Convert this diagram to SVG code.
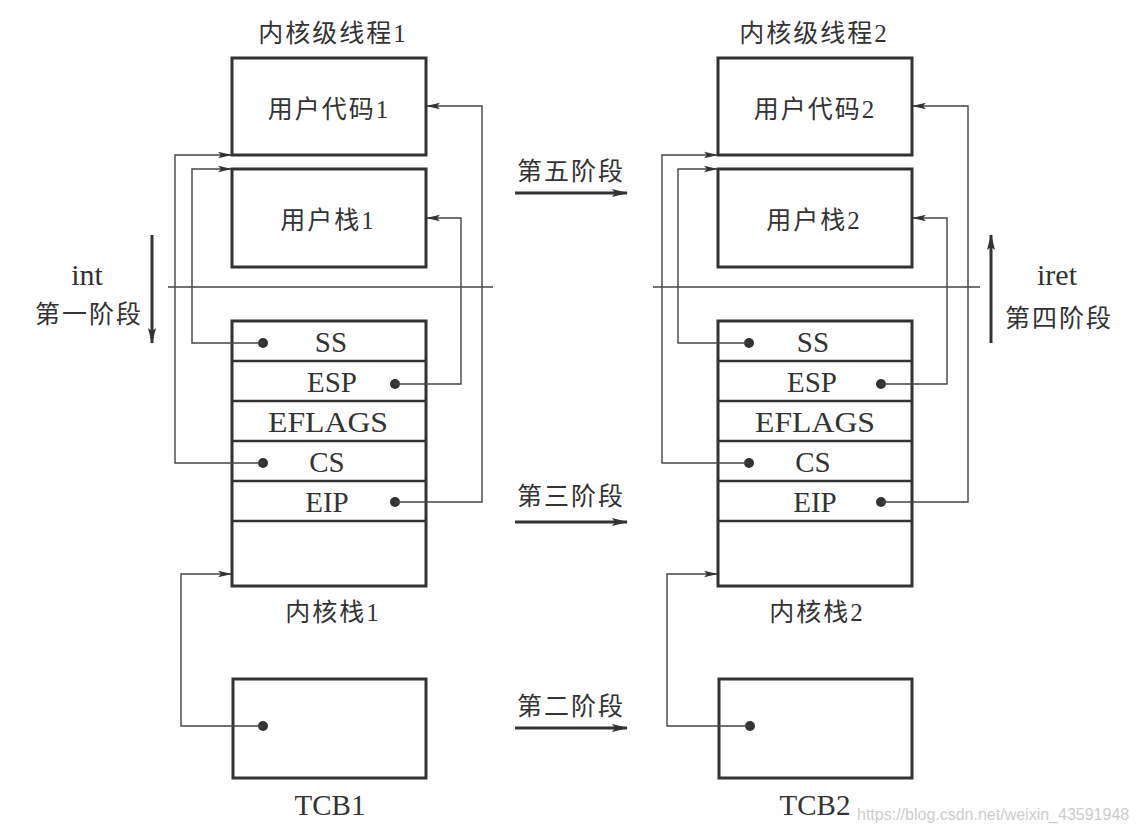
<svg xmlns="http://www.w3.org/2000/svg" width="1137" height="834" viewBox="0 0 1137 834">
<style>
.box{fill:none;stroke:#333;stroke-width:3}
.row{stroke:#333;stroke-width:2.5}
.con{fill:none;stroke:#444;stroke-width:1.4}
.thick{fill:none;stroke:#333;stroke-width:3}
.cn{font-family:"Liberation Serif","Noto Sans CJK SC",serif;font-size:25px;letter-spacing:2px;fill:#333;text-anchor:middle}
.reg{font-family:"Liberation Serif",serif;font-size:29px;fill:#333;text-anchor:middle}
.lat{font-family:"Liberation Serif",serif;font-size:30px;fill:#333;text-anchor:middle}
.dot{fill:#333}
.wm{font-family:"Liberation Sans",sans-serif;font-size:16px;fill:#ccc}
</style>
<defs>
<marker id="ah" markerUnits="userSpaceOnUse" markerWidth="14" markerHeight="8" refX="13" refY="4" orient="auto">
<path d="M0,0.8 L14,4 L0,7.2 L3,4 Z" fill="#333"/>
</marker>
<marker id="ahb" markerUnits="userSpaceOnUse" markerWidth="16" markerHeight="10" refX="15" refY="5" orient="auto">
<path d="M0,1 L16,5 L0,9 L3,5 Z" fill="#333"/>
</marker>
</defs>
<rect width="1137" height="834" fill="#fff"/>

<g id="thread1">
<text class="cn" x="333" y="42">内核级线程1</text>
<g id="usercode1"><rect class="box" x="232" y="58" width="194" height="97"/><text class="cn" x="329" y="118">用户代码1</text></g>
<g id="userstack1"><rect class="box" x="232" y="169" width="194" height="98"/><text class="cn" x="328" y="229">用户栈1</text></g>
<g id="kstack1">
<rect class="box" x="232" y="321" width="194" height="265"/>
<line class="row" x1="232" y1="361" x2="426" y2="361"/>
<line class="row" x1="232" y1="401" x2="426" y2="401"/>
<line class="row" x1="232" y1="441" x2="426" y2="441"/>
<line class="row" x1="232" y1="481" x2="426" y2="481"/>
<line class="row" x1="232" y1="521" x2="426" y2="521"/>
<text class="reg" x="331" y="352">SS</text>
<text class="reg" x="332" y="392">ESP</text>
<text class="reg" x="328" y="432" textLength="120" lengthAdjust="spacingAndGlyphs">EFLAGS</text>
<text class="reg" x="327" y="472">CS</text>
<text class="reg" x="327" y="512">EIP</text>
<circle class="dot" cx="263" cy="343" r="5"/>
<circle class="dot" cx="395" cy="384" r="5"/>
<circle class="dot" cx="263" cy="463" r="5"/>
<circle class="dot" cx="395" cy="502" r="5"/>
<text class="cn" x="333" y="621">内核栈1</text>
</g>
<g id="tcb1"><rect class="box" x="233" y="679" width="193" height="99"/><circle class="dot" cx="263" cy="726" r="5"/><text class="reg" x="330" y="815">TCB1</text></g>
</g>

<g id="thread2">
<text class="cn" x="814" y="42">内核级线程2</text>
<g id="usercode2"><rect class="box" x="718" y="58" width="194" height="97"/><text class="cn" x="815" y="118">用户代码2</text></g>
<g id="userstack2"><rect class="box" x="718" y="169" width="194" height="98"/><text class="cn" x="814" y="229">用户栈2</text></g>
<g id="kstack2">
<rect class="box" x="718" y="321" width="194" height="265"/>
<line class="row" x1="718" y1="361" x2="912" y2="361"/>
<line class="row" x1="718" y1="401" x2="912" y2="401"/>
<line class="row" x1="718" y1="441" x2="912" y2="441"/>
<line class="row" x1="718" y1="481" x2="912" y2="481"/>
<line class="row" x1="718" y1="521" x2="912" y2="521"/>
<text class="reg" x="813" y="352">SS</text>
<text class="reg" x="812" y="392">ESP</text>
<text class="reg" x="815" y="432" textLength="120" lengthAdjust="spacingAndGlyphs">EFLAGS</text>
<text class="reg" x="813" y="472">CS</text>
<text class="reg" x="815" y="512">EIP</text>
<circle class="dot" cx="749" cy="343" r="5"/>
<circle class="dot" cx="881" cy="384" r="5"/>
<circle class="dot" cx="749" cy="463" r="5"/>
<circle class="dot" cx="881" cy="502" r="5"/>
<text class="cn" x="817" y="621">内核栈2</text>
</g>
<g id="tcb2"><rect class="box" x="719" y="679" width="193" height="99"/><circle class="dot" cx="750" cy="726" r="5"/><text class="reg" x="815" y="815">TCB2</text></g>
</g>

<g id="connectors">
<path class="con" d="M263,343 H192 V169 H231" marker-end="url(#ah)"/>
<path class="con" d="M263,463 H175 V155 H231" marker-end="url(#ah)"/>
<path class="con" d="M395,384 H461 V218 H427" marker-end="url(#ah)"/>
<path class="con" d="M395,502 H482 V106 H427" marker-end="url(#ah)"/>
<path class="con" d="M263,726 H181 V574 H231" marker-end="url(#ah)"/>
<path class="con" d="M749,343 H678 V169 H717" marker-end="url(#ah)"/>
<path class="con" d="M749,463 H662 V155 H717" marker-end="url(#ah)"/>
<path class="con" d="M881,384 H947 V218 H913" marker-end="url(#ah)"/>
<path class="con" d="M881,502 H968 V106 H913" marker-end="url(#ah)"/>
<path class="con" d="M750,726 H667 V574 H717" marker-end="url(#ah)"/>
<line class="con" x1="168" y1="287" x2="493" y2="287"/>
<line class="con" x1="653" y1="287" x2="980" y2="287"/>
<line class="thick" x1="152" y1="235" x2="152" y2="343" marker-end="url(#ahb)"/>
<line class="thick" x1="991" y1="343" x2="991" y2="235" marker-end="url(#ahb)"/>
<line class="thick" x1="515" y1="193" x2="627" y2="193" marker-end="url(#ahb)"/>
<line class="thick" x1="515" y1="522" x2="627" y2="522" marker-end="url(#ahb)"/>
<line class="thick" x1="515" y1="728" x2="627" y2="728" marker-end="url(#ahb)"/>
</g>

<g id="labels">
<text class="lat" x="87" y="285">int</text>
<text class="cn" x="89" y="323">第一阶段</text>
<text class="lat" x="1057" y="285">iret</text>
<text class="cn" x="1059" y="327">第四阶段</text>
<text class="cn" x="571" y="180">第五阶段</text>
<text class="cn" x="571" y="505">第三阶段</text>
<text class="cn" x="571" y="715">第二阶段</text>
<text class="wm" x="857" y="820">https://blog.csdn.net/weixin_43591948</text>
</g>
</svg>
